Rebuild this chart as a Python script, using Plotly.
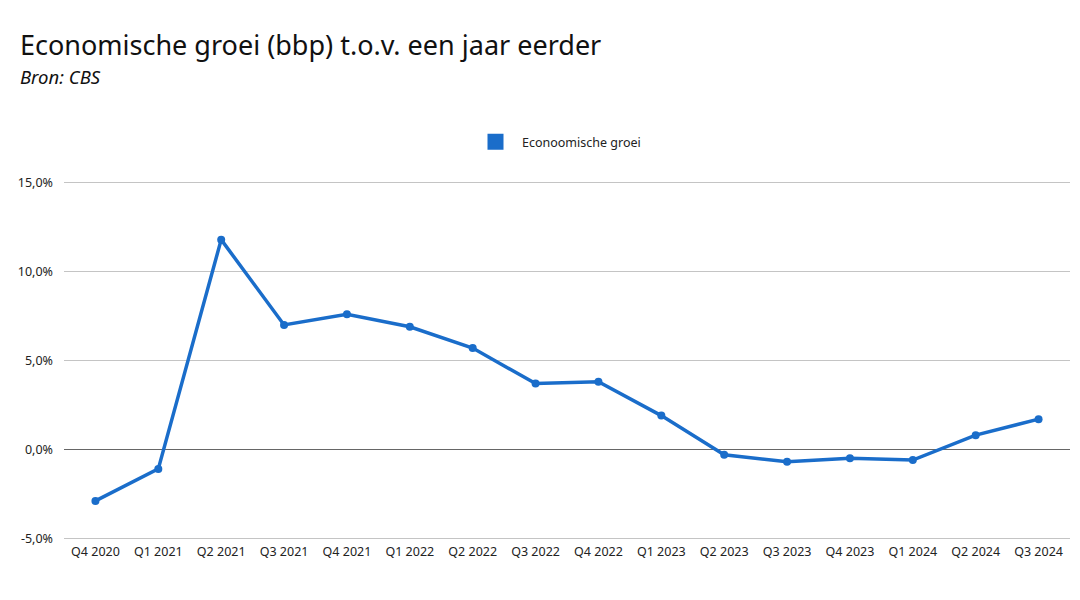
import plotly.graph_objects as go

categories = ["Q4 2020", "Q1 2021", "Q2 2021", "Q3 2021", "Q4 2021", "Q1 2022", "Q2 2022",
              "Q3 2022", "Q4 2022", "Q1 2023", "Q2 2023", "Q3 2023", "Q4 2023", "Q1 2024",
              "Q2 2024", "Q3 2024"]
groei = [-2.9, -1.1, 11.8, 7.0, 7.6, 6.9, 5.7, 3.7, 3.8, 1.9, -0.3, -0.7, -0.5, -0.6, 0.8, 1.7]
tick_vals = [-5, 0, 5, 10, 15]
tick_text = ["-5,0%", "0,0%", "5,0%", "10,0%", "15,0%"]

color = "#1a6dca"
font = "Noto Sans"

fig = go.Figure()
fig.add_trace(go.Scatter(x=categories, y=groei, mode="lines+markers",
                         line=dict(color=color, width=3.5),
                         marker=dict(color=color, size=8),
                         showlegend=False, name="Econoomische groei"))
fig.add_trace(go.Scatter(x=[None], y=[None], mode="markers",
                         marker=dict(color=color, size=18, symbol="square"),
                         name="\u00a0\u00a0Econoomische groei", showlegend=True))

L, R, T, B = 64, 10, 181, 60
PW, PH = 1080 - L - R, 600 - T - B

fig.update_layout(
    width=1080, height=600,
    margin=dict(l=L, r=R, t=T, b=B),
    paper_bgcolor="white", plot_bgcolor="white",
    font=dict(family=font, color="#222222", size=12.5),
    showlegend=True,
    legend=dict(orientation="h", x=(561 - L) / PW, xanchor="center", xref="paper",
                y=1 + (T - 142) / PH, yanchor="middle", font=dict(size=12.5, color="#222222")),
    xaxis=dict(range=[-0.5, len(categories) - 0.5], showgrid=False,
               tickfont=dict(size=12.5, color="#222222"), ticks="", ticklabelstandoff=2,
               showline=False, zeroline=False, automargin=False),
    yaxis=dict(range=[-5.1, 15.1], tickvals=tick_vals, ticktext=tick_text,
               showgrid=True, gridcolor="#c4c4c4", gridwidth=1,
               zeroline=True, zerolinecolor="#666666", zerolinewidth=1,
               tickfont=dict(size=12.5, color="#222222"), ticks="", ticklabelstandoff=10,
               automargin=False),
)
fig.add_annotation(text="Economische groei (bbp) t.o.v. een jaar eerder",
                   x=(18 - L) / PW, y=1 + (T - 45) / PH,
                   xref="paper", yref="paper", showarrow=False, xanchor="left", yanchor="middle",
                   font=dict(size=27, color="#111111", family=font))
fig.add_annotation(text="<i>Bron: CBS</i>",
                   x=(18 - L) / PW, y=1 + (T - 77) / PH,
                   xref="paper", yref="paper", showarrow=False, xanchor="left", yanchor="middle",
                   font=dict(size=18.5, color="#111111", family=font))

fig.write_html("out.html")
